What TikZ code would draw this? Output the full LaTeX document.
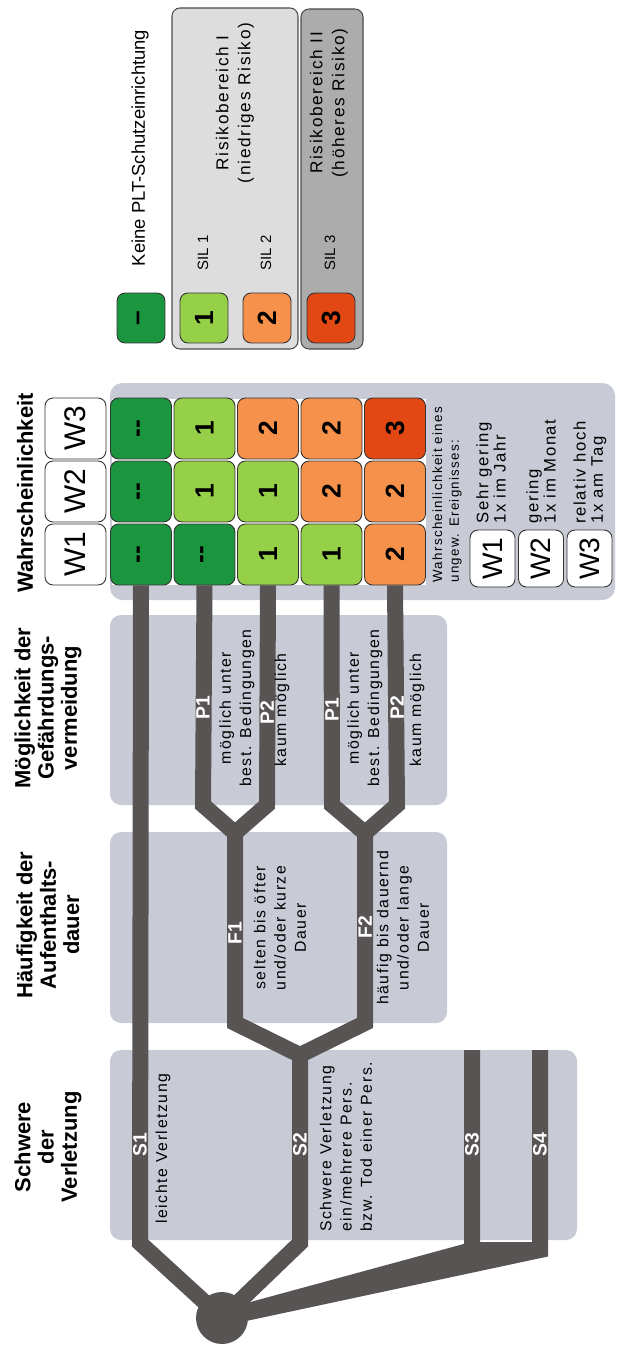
\documentclass[tikz,border=0pt]{standalone}
\usepackage{fontspec}
\setmainfont{Liberation Sans}
\newfontfamily\trackfont[LetterSpace=10]{Liberation Sans}
\usetikzlibrary{positioning}
\definecolor{silnone}{RGB}{28,150,62}
\definecolor{silone}{RGB}{150,208,72}
\definecolor{siltwo}{RGB}{245,145,75}
\definecolor{silthree}{RGB}{225,72,20}
\definecolor{panelgrey}{RGB}{200,203,213}
\definecolor{pathgrey}{RGB}{88,84,84}
\definecolor{zoneone}{RGB}{221,221,221}
\definecolor{zonetwo}{RGB}{172,172,172}
\tikzset{
  heading/.style={rotate=90, align=center, font=\fontsize{12.5}{13.3}\selectfont\bfseries},
  smalltext/.style={rotate=90, align=center, inner sep=0pt, font=\trackfont\fontsize{9}{11.5}\selectfont},
  pathlabel/.style={rotate=90, text=white, inner sep=0pt, font=\fontsize{11}{12}\selectfont\bfseries},
  silcell/.style={draw=black!80, line width=0.5pt, rounded corners=1.6mm, minimum width=1.22cm, minimum height=1.22cm, inner sep=0pt, font=\fontsize{15}{15}\selectfont\bfseries},
  whead/.style={silcell, fill=white, font=\fontsize{17}{17}\selectfont},
  keycell/.style={silcell, minimum width=0.96cm, minimum height=1cm},
  panel/.style={fill=panelgrey, rounded corners=2.2mm},
  zone/.style={draw=black!70, line width=0.6pt, rounded corners=1.6mm},
  branch/.style={draw=pathgrey, line width=0.32cm, line join=miter}
}
\begin{document}
\begin{tikzpicture}[x=0.02cm, y=-0.02cm]
\useasboundingbox (0,0) rectangle (617,1351);
% legend
\draw[zone, fill=zoneone] (172,8) rectangle (298,349);
\draw[zone, fill=zonetwo] (301,9) rectangle (363,349);
\node[keycell, fill=silnone] (key-0) at (141,318) {\rotatebox{90}{--}};
\node[keycell, fill=silone] (key-1) at (204,318) {\rotatebox{90}{1}};
\node[keycell, fill=siltwo] (key-2) at (267,318) {\rotatebox{90}{2}};
\node[keycell, fill=silthree] (key-3) at (331,318) {\rotatebox{90}{3}};
\node[rotate=90, font=\fontsize{10.5}{12}\selectfont] (key-0-text) at (140,148) {Keine PLT-Schutzeinrichtung};
\node[rotate=90, font=\fontsize{8.5}{10}\selectfont] (key-1-text) at (203,253) {SIL 1};
\node[rotate=90, font=\fontsize{8.5}{10}\selectfont] (key-2-text) at (266,253) {SIL 2};
\node[rotate=90, font=\fontsize{8.5}{10}\selectfont] (key-3-text) at (330,253) {SIL 3};
\node[smalltext, font=\trackfont\fontsize{9.8}{12.5}\selectfont] (zone-1-text) at (235,103) {Risikobereich I\\(niedriges Risiko)};
\node[smalltext, font=\trackfont\fontsize{9.8}{12.5}\selectfont] (zone-2-text) at (329,103) {Risikobereich II\\(höheres Risiko)};
% panels
\fill[panel] (110,615) rectangle (447,805);
\fill[panel] (110,832) rectangle (447,1023);
\fill[panel] (110,1050) rectangle (577,1240);
\node[heading] (avoid-title) at (48,708) {Möglichkeit der\\Gefährdungs-\\vermeidung};
\node[heading] (freq-title) at (48,925) {Häufigkeit der\\Aufenthalts-\\dauer};
\node[heading] (sev-title) at (48,1147) {Schwere\\der\\Verletzung};
% matrix
\fill[panelgrey, rounded corners=2.5mm] (110,383) rectangle (615,600);
\fill[white] (112,399) rectangle (426,585);
\node[heading] (prob-title) at (25,493) {Wahrscheinlichkeit};
\foreach \w in {1,2,3}
  \node[whead] (head-\w) at (75.5,{617.5-63*\w}) {\rotatebox{90}{W\w}};
\foreach \c/\w/\v/\f in {1/1/-{}-/silnone, 1/2/-{}-/silnone, 1/3/-{}-/silnone,
    2/1/-{}-/silnone, 2/2/1/silone, 2/3/1/silone,
    3/1/1/silone, 3/2/1/silone, 3/3/2/siltwo,
    4/1/1/silone, 4/2/2/siltwo, 4/3/2/siltwo,
    5/1/2/siltwo, 5/2/2/siltwo, 5/3/3/silthree}
  \node[silcell, fill=\f] (cell-\c-\w) at ({77.5+63.5*\c},{617.5-63*\w}) {\rotatebox{90}{\v}};
\node[smalltext, align=left, anchor=west, font=\trackfont\fontsize{7.6}{9.5}\selectfont] (prob-note) at (447,583) {Wahrscheinlichkeit eines\\ungew. Ereignisses:};
\foreach \w in {1,2,3}
  \node[whead, minimum width=0.9cm, minimum height=1.14cm, font=\fontsize{16}{16}\selectfont] (note-\w) at ({444+48.5*\w},558.5) {\rotatebox{90}{W\w}};
\node[smalltext, align=left, anchor=west, font=\trackfont\fontsize{9.5}{9.8}\selectfont] (note-1-text) at (491,524) {Sehr gering\\1x im Jahr};
\node[smalltext, align=left, anchor=west, font=\trackfont\fontsize{9.5}{9.8}\selectfont] (note-2-text) at (541,524) {gering\\1x im Monat};
\node[smalltext, align=left, anchor=west, font=\trackfont\fontsize{9.5}{9.8}\selectfont] (note-3-text) at (590,524) {relativ hoch\\1x am Tag};
% graph
\coordinate (hub) at (222,1318);
\coordinate (s1b) at (140,1243);
\coordinate (s2b) at (300,1243);
\coordinate (s2t) at (300,1055);
\coordinate (f1b) at (235,1023);
\coordinate (f1t) at (235,833);
\coordinate (f2b) at (365,1023);
\coordinate (f2t) at (365,833);
\coordinate (p11b) at (203,805);
\coordinate (p12b) at (267,805);
\coordinate (p21b) at (332,805);
\coordinate (p22b) at (397,805);
\coordinate (s3b) at (472,1250);
\coordinate (s3t) at (472,1050);
\coordinate (s4b) at (540,1250);
\coordinate (s4t) at (540,1050);
\draw[branch] (hub) -- (s1b) -- (cell-1-1.south);
\draw[branch] (hub) -- (s2b) -- (s2t) -- (f1b) -- (f1t) -- (p11b) -- (cell-2-1.south);
\draw[branch] (f1t) -- (p12b) -- (cell-3-1.south);
\draw[branch] (s2t) -- (f2b) -- (f2t) -- (p21b) -- (cell-4-1.south);
\draw[branch] (f2t) -- (p22b) -- (cell-5-1.south);
\draw[branch] (hub) -- (s3b) -- (s3t);
\draw[branch] (hub) -- (s4b) -- (s4t);
\draw[branch] (s3b) -- (s4b);
\node[circle, fill=pathgrey, minimum size=1.04cm] (root) at (hub) {};
\node[pathlabel] (s1-label) at (140,1145) {S1};
\node[pathlabel] (s2-label) at (300,1145) {S2};
\node[pathlabel] (s3-label) at (472,1145) {S3};
\node[pathlabel] (s4-label) at (540,1145) {S4};
\node[pathlabel] (f1-label) at (235,933) {F1};
\node[pathlabel] (f2-label) at (365,927) {F2};
\node[pathlabel] (p11-label) at (203,708) {P1};
\node[pathlabel] (p12-label) at (267,713) {P2};
\node[pathlabel] (p21-label) at (332,710) {P1};
\node[pathlabel] (p22-label) at (397,708) {P2};
\node[smalltext, align=left, anchor=west] (s1-text) at (163,1224) {leichte Verletzung};
\node[smalltext, align=left, anchor=west] (s2-text) at (346,1232) {Schwere Verletzung\\ein/mehrere Pers.\\bzw. Tod einer Pers.};
\node[smalltext] (f1-text) at (280,928) {selten bis öfter\\und/oder kurze\\Dauer};
\node[smalltext] (f2-text) at (403,928) {häufig bis dauernd\\und/oder lange\\Dauer};
\node[smalltext] (p11-text) at (237,708) {möglich unter\\best. Bedingungen};
\node[smalltext] (p12-text) at (282,710) {kaum möglich};
\node[smalltext] (p21-text) at (365,708) {möglich unter\\best. Bedingungen};
\node[smalltext] (p22-text) at (417,710) {kaum möglich};
\end{tikzpicture}
\end{document}
